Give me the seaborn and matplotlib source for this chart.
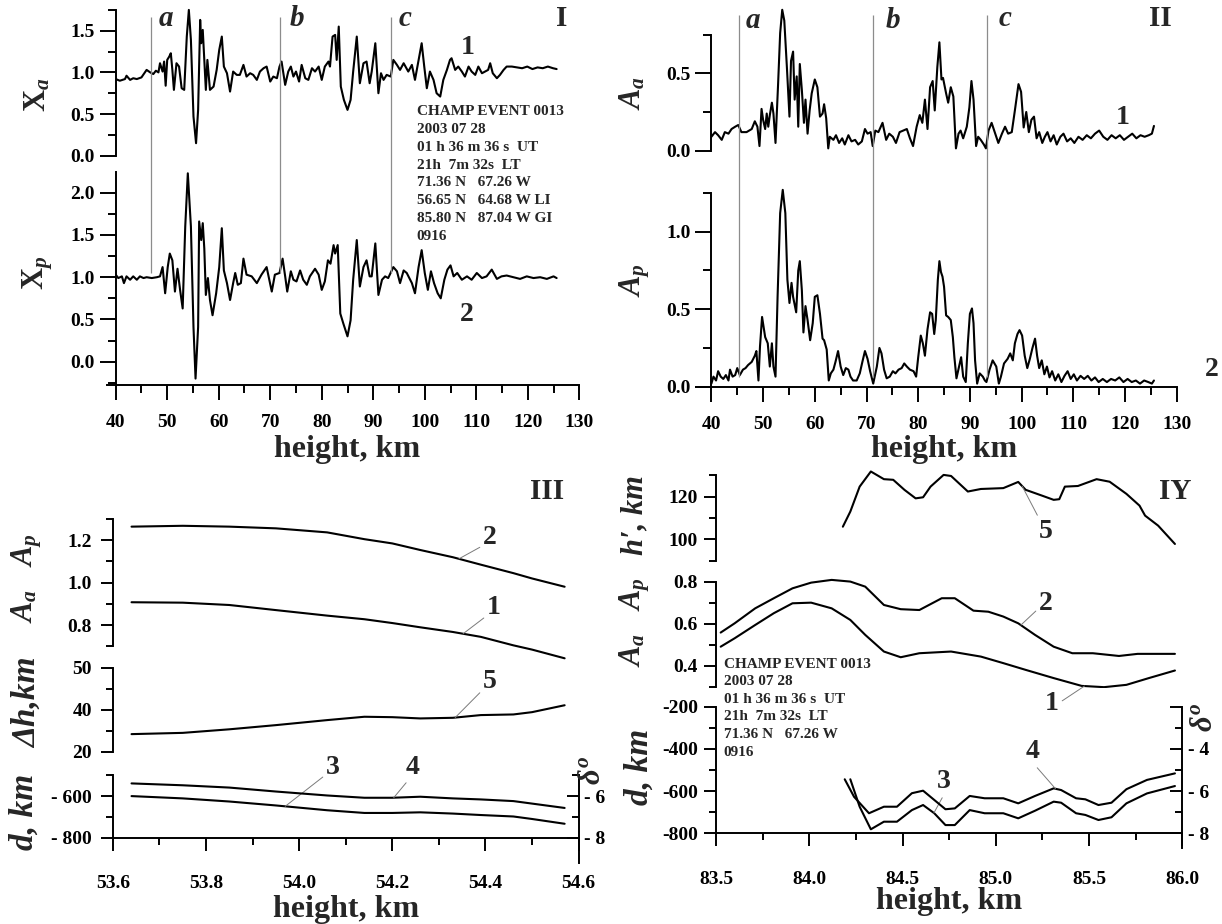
import numpy as np
import matplotlib
matplotlib.use("Agg")
import matplotlib.pyplot as plt
import seaborn as sns
from matplotlib.ticker import FixedLocator, FuncFormatter

# ---------------- data ----------------
# Panel I
XA_H = [40.0, 40.8, 41.8, 42.1, 42.8, 43.4, 44.1, 45.0, 46.0, 46.7, 47.3, 47.8, 48.3, 48.6, 49.1, 49.4, 49.7, 50.0, 50.4, 50.7,
        51.0, 51.3, 51.8, 52.3, 52.8, 53.3, 53.8, 54.2, 54.6, 55.1, 55.6, 56.0, 56.4, 56.6, 56.9, 57.2, 57.5, 57.8, 58.3, 59.0,
        59.6, 60.1, 60.6, 61.0, 61.6, 62.2, 62.8, 63.5, 64.1, 64.8, 65.4, 66.1, 66.7, 67.4, 68.0, 68.7, 69.3, 70.0, 70.6, 71.3,
        71.8, 72.2, 72.9, 73.5, 74.0, 74.5, 75.0, 75.6, 76.1, 76.8, 77.4, 78.1, 78.7, 79.4, 80.0, 80.6, 81.3, 81.6, 82.1, 82.6,
        82.9, 83.3, 83.7, 84.3, 85.0, 85.6, 86.1, 86.8, 87.4, 88.1, 88.7, 89.3, 89.7, 90.4, 91.0, 91.5, 92.0, 92.6, 93.4, 93.9,
        94.6, 95.2, 95.9, 96.8, 97.5, 98.1, 98.8, 99.4, 99.9, 100.4, 101.0, 101.7, 102.3, 103.0, 103.6, 104.3, 104.9, 105.2, 105.9, 106.5,
        107.2, 107.8, 108.5, 109.1, 109.8, 110.4, 111.1, 111.7, 112.3, 112.7, 113.2, 114.0, 114.6, 115.3, 115.9, 116.9, 117.9, 118.9, 119.9, 120.9,
        121.9, 122.9, 123.9, 124.9, 125.6]
XA_V = [0.92, 0.90, 0.92, 0.96, 0.91, 0.93, 0.92, 0.94, 1.03, 1.00, 0.98, 1.02, 1.00, 1.11, 1.01, 1.13, 0.84, 1.15, 1.19, 1.23,
        1.03, 0.79, 1.11, 1.07, 0.81, 0.79, 1.43, 1.75, 1.39, 0.47, 0.15, 0.55, 1.63, 1.35, 1.51, 1.15, 0.79, 1.15, 0.79, 0.83,
        1.03, 1.27, 1.43, 1.07, 0.99, 0.77, 1.01, 0.97, 0.97, 1.09, 0.95, 0.99, 0.97, 0.91, 1.01, 1.05, 1.07, 0.89, 0.95, 0.93,
        1.07, 1.13, 0.85, 1.01, 1.07, 0.95, 1.01, 0.89, 1.09, 0.93, 0.91, 1.05, 1.01, 1.07, 0.91, 1.07, 1.13, 1.07, 1.43, 1.45,
        1.15, 1.55, 0.83, 0.67, 0.55, 0.67, 1.01, 1.43, 0.87, 1.11, 1.13, 0.87, 1.01, 1.35, 0.75, 0.99, 0.91, 0.97, 0.95, 1.15,
        1.09, 1.03, 1.11, 1.01, 1.09, 0.91, 1.15, 1.35, 1.07, 0.81, 1.01, 0.91, 0.75, 0.71, 0.91, 1.03, 1.15, 1.17, 1.03, 1.07,
        1.01, 0.95, 1.07, 1.01, 0.97, 1.07, 0.99, 1.01, 1.03, 1.11, 0.99, 0.93, 0.97, 1.03, 1.07, 1.07, 1.06, 1.05, 1.07, 1.04,
        1.06, 1.05, 1.07, 1.05, 1.04]
XP_H = [40.0, 40.5, 41.2, 41.6, 42.1, 42.8, 43.4, 44.1, 44.7, 45.4, 46.0, 47.0, 48.0, 48.6, 49.1, 49.6, 50.1, 50.5, 51.0, 51.5,
        52.0, 52.5, 53.0, 53.5, 54.0, 54.6, 55.1, 55.5, 56.0, 56.2, 56.6, 56.9, 57.2, 57.5, 57.9, 58.3, 58.8, 59.5, 60.1, 60.6,
        61.0, 61.6, 62.2, 62.8, 63.2, 63.7, 64.3, 64.8, 65.4, 66.4, 67.4, 68.3, 69.3, 70.3, 70.9, 71.8, 72.4, 72.9, 73.3, 74.0,
        74.5, 75.1, 75.8, 76.4, 77.1, 77.7, 78.7, 79.4, 80.0, 80.6, 81.2, 81.7, 82.3, 82.6, 83.1, 83.6, 84.2, 85.0, 85.6, 86.1,
        86.8, 87.4, 88.1, 88.7, 89.3, 89.7, 90.4, 91.0, 91.7, 92.3, 92.9, 93.9, 94.6, 95.2, 95.9, 96.5, 97.5, 98.1, 98.8, 99.4,
        100.0, 100.6, 101.2, 101.8, 102.5, 103.1, 103.8, 104.4, 105.0, 105.6, 106.3, 107.2, 108.2, 109.1, 110.1, 111.1, 112.0, 113.0, 114.0, 114.9,
        115.9, 117.2, 118.5, 119.8, 121.1, 122.4, 123.7, 125.0, 125.6]
XP_V = [1.03, 0.99, 1.01, 0.93, 1.01, 0.97, 1.01, 0.97, 1.01, 0.99, 1.00, 0.99, 1.00, 1.01, 1.12, 0.81, 1.12, 1.28, 1.20, 0.83,
        1.10, 0.85, 0.63, 1.60, 2.23, 1.60, 0.41, -0.20, 0.41, 1.66, 1.44, 1.64, 1.34, 0.79, 0.99, 0.73, 0.55, 0.81, 1.12, 1.58,
        1.08, 0.93, 0.73, 0.93, 1.05, 0.91, 0.93, 1.22, 1.03, 1.01, 0.93, 1.03, 1.12, 0.83, 1.03, 1.05, 1.22, 1.01, 0.83, 1.07,
        0.97, 0.95, 1.08, 0.97, 0.91, 1.01, 1.10, 1.03, 0.85, 0.95, 1.20, 1.16, 1.38, 1.28, 1.38, 0.57, 0.45, 0.30, 0.49, 0.97,
        1.44, 0.89, 1.12, 1.20, 1.01, 1.01, 1.40, 0.79, 0.97, 1.01, 0.99, 1.12, 1.07, 0.93, 1.08, 1.05, 0.93, 0.81, 1.12, 1.32,
        1.05, 0.85, 1.07, 0.93, 0.81, 0.75, 0.97, 1.09, 1.14, 1.01, 1.05, 0.97, 1.01, 0.97, 1.05, 0.99, 1.01, 1.09, 0.98, 1.01,
        1.02, 1.00, 0.98, 1.01, 0.99, 1.00, 0.98, 1.01, 0.99]
MARKS_I = [46.9, 71.8, 93.4]

# Panel II
AA_H = [40.0, 40.7, 41.3, 42.0, 42.6, 43.3, 43.9, 44.6, 45.2, 45.8, 46.8, 47.8, 48.4, 48.9, 49.3, 49.7, 50.0, 50.4, 50.7, 51.0,
        51.3, 51.7, 52.0, 52.4, 52.9, 53.3, 53.7, 54.1, 54.6, 55.1, 55.4, 55.8, 56.1, 56.5, 56.8, 57.1, 57.5, 57.9, 58.2, 58.6,
        59.0, 59.4, 60.0, 60.5, 61.0, 61.5, 61.8, 62.2, 62.6, 62.9, 63.6, 64.1, 64.7, 65.3, 65.8, 66.5, 67.1, 67.8, 68.4, 69.1,
        69.7, 70.2, 70.8, 71.2, 71.7, 72.3, 73.1, 73.8, 74.4, 75.1, 75.7, 76.4, 77.1, 77.8, 78.4, 79.0, 79.7, 80.3, 80.8, 81.3,
        81.8, 82.3, 82.8, 83.2, 83.7, 84.1, 84.5, 84.8, 85.4, 85.8, 86.3, 86.8, 87.3, 87.8, 88.2, 88.7, 89.4, 89.9, 90.3, 90.7,
        91.2, 91.6, 92.1, 92.7, 93.1, 93.6, 94.2, 94.9, 95.5, 96.2, 96.8, 97.4, 98.1, 98.7, 99.4, 99.9, 100.4, 100.9, 101.4, 101.9,
        102.4, 102.9, 103.4, 104.0, 104.5, 105.0, 105.6, 106.2, 106.8, 107.5, 108.1, 108.8, 109.5, 110.2, 111.0, 111.8, 112.6, 113.4, 114.2, 115.0,
        115.8, 116.6, 117.4, 118.2, 119.0, 119.8, 120.6, 121.4, 122.2, 123.0, 123.8, 124.6, 125.2, 125.6]
AA_V = [0.09, 0.12, 0.10, 0.07, 0.12, 0.11, 0.14, 0.155, 0.166, 0.12, 0.12, 0.14, 0.19, 0.155, 0.03, 0.27, 0.20, 0.14, 0.24, 0.155,
        0.23, 0.31, 0.24, 0.05, 0.43, 0.76, 0.91, 0.84, 0.54, 0.22, 0.58, 0.64, 0.33, 0.48, 0.155, 0.56, 0.39, 0.18, 0.33, 0.11,
        0.26, 0.37, 0.46, 0.41, 0.22, 0.24, 0.30, 0.21, 0.015, 0.09, 0.07, 0.10, 0.05, 0.08, 0.04, 0.10, 0.06, 0.07, 0.04, 0.06,
        0.14, 0.11, 0.12, 0.03, 0.13, 0.12, 0.18, 0.07, 0.11, 0.09, 0.05, 0.12, 0.13, 0.14, 0.08, 0.03, 0.155, 0.23, 0.18, 0.33,
        0.14, 0.41, 0.45, 0.26, 0.54, 0.70, 0.46, 0.47, 0.37, 0.31, 0.41, 0.35, 0.015, 0.11, 0.13, 0.08, 0.155, 0.28, 0.45, 0.33,
        0.03, 0.09, 0.07, 0.04, 0.015, 0.13, 0.18, 0.11, 0.05, 0.11, 0.155, 0.11, 0.12, 0.26, 0.43, 0.38, 0.15, 0.25, 0.12, 0.20,
        0.22, 0.08, 0.12, 0.05, 0.09, 0.12, 0.06, 0.10, 0.04, 0.09, 0.11, 0.06, 0.08, 0.05, 0.09, 0.07, 0.10, 0.08, 0.11, 0.13,
        0.09, 0.07, 0.10, 0.08, 0.10, 0.07, 0.09, 0.11, 0.08, 0.10, 0.09, 0.10, 0.11, 0.16]
AP_H = [40.0, 40.4, 40.9, 41.3, 41.8, 42.3, 42.8, 43.3, 43.6, 44.1, 44.6, 45.0, 45.5, 46.1, 46.6, 47.1, 47.8, 48.4, 48.7, 49.1,
        49.4, 49.8, 50.4, 50.9, 51.3, 51.7, 52.0, 52.4, 52.8, 53.3, 53.8, 54.3, 54.7, 55.1, 55.5, 55.8, 56.4, 56.8, 57.1, 57.5,
        57.8, 58.2, 58.6, 59.1, 59.6, 60.0, 60.5, 61.0, 61.5, 61.8, 62.3, 62.7, 63.1, 63.6, 64.0, 64.5, 65.0, 65.5, 66.0, 66.5,
        66.9, 67.4, 68.1, 68.7, 69.2, 69.7, 70.2, 70.7, 71.3, 72.0, 72.5, 72.9, 73.4, 73.9, 74.5, 75.1, 75.6, 76.2, 76.8, 77.3,
        77.8, 78.4, 79.1, 79.6, 80.0, 80.5, 80.9, 81.3, 81.8, 82.3, 82.7, 83.1, 83.4, 83.8, 84.1, 84.4, 84.7, 85.0, 85.4, 85.8,
        86.3, 86.7, 87.0, 87.4, 87.9, 88.3, 88.7, 89.2, 89.6, 90.0, 90.4, 90.7, 91.0, 91.4, 91.9, 92.5, 92.9, 93.2, 93.8, 94.4,
        95.1, 95.6, 96.0, 96.6, 97.3, 97.8, 98.3, 98.7, 99.2, 99.6, 100.1, 100.6, 101.1, 101.6, 102.1, 102.6, 103.0, 103.4, 103.9, 104.4,
        104.9, 105.4, 105.9, 106.5, 107.1, 107.7, 108.3, 108.9, 109.5, 110.1, 110.7, 111.4, 112.1, 112.8, 113.5, 114.2, 114.9, 115.7, 116.5, 117.3,
        118.1, 118.9, 119.7, 120.5, 121.3, 122.1, 122.9, 123.7, 124.5, 125.2, 125.6]
AP_V = [0.02, 0.065, 0.04, 0.10, 0.065, 0.05, 0.075, 0.04, 0.11, 0.065, 0.075, 0.12, 0.075, 0.11, 0.12, 0.14, 0.16, 0.20, 0.23, 0.04,
        0.26, 0.45, 0.32, 0.28, 0.13, 0.28, 0.13, 0.065, 0.58, 1.12, 1.27, 1.12, 0.69, 0.54, 0.67, 0.58, 0.48, 0.75, 0.81, 0.62,
        0.35, 0.52, 0.43, 0.30, 0.41, 0.58, 0.59, 0.47, 0.31, 0.30, 0.24, 0.04, 0.086, 0.11, 0.16, 0.23, 0.13, 0.075, 0.12, 0.11,
        0.065, 0.04, 0.04, 0.086, 0.16, 0.23, 0.18, 0.10, 0.02, 0.13, 0.25, 0.215, 0.11, 0.054, 0.065, 0.10, 0.086, 0.11, 0.12, 0.15,
        0.13, 0.11, 0.10, 0.065, 0.19, 0.33, 0.28, 0.20, 0.37, 0.48, 0.47, 0.34, 0.43, 0.69, 0.81, 0.74, 0.71, 0.645, 0.46, 0.45,
        0.43, 0.32, 0.19, 0.054, 0.13, 0.19, 0.065, 0.03, 0.28, 0.47, 0.505, 0.41, 0.17, 0.02, 0.086, 0.065, 0.04, 0.03, 0.11, 0.17,
        0.13, 0.02, 0.065, 0.15, 0.18, 0.215, 0.17, 0.28, 0.34, 0.365, 0.33, 0.20, 0.12, 0.18, 0.25, 0.31, 0.20, 0.12, 0.17, 0.08,
        0.13, 0.06, 0.10, 0.04, 0.08, 0.03, 0.07, 0.10, 0.05, 0.08, 0.04, 0.07, 0.05, 0.07, 0.04, 0.06, 0.03, 0.05, 0.03, 0.05,
        0.04, 0.06, 0.03, 0.05, 0.03, 0.04, 0.02, 0.04, 0.03, 0.02, 0.04]
MARKS_II = [45.4, 71.3, 93.25]

# Panel III
H3 = [53.64, 53.75, 53.85, 53.95, 54.06, 54.14, 54.20, 54.26, 54.33, 54.39, 54.46, 54.50, 54.57]
P3_AP = [1.264, 1.268, 1.264, 1.256, 1.237, 1.205, 1.185, 1.154, 1.12, 1.085, 1.045, 1.02, 0.981]
P3_AA = [0.908, 0.906, 0.895, 0.871, 0.845, 0.828, 0.81, 0.79, 0.768, 0.745, 0.705, 0.685, 0.644]
P3_DH = [28.4, 29.0, 30.7, 32.7, 35.1, 36.7, 36.5, 35.9, 36.2, 37.5, 37.8, 38.9, 42.2]
P3_D = [-600, -611, -626, -645, -668, -681, -681, -678, -684, -691, -698, -710, -733]
P3_DELTA = [-5.39, -5.48, -5.59, -5.78, -5.97, -6.08, -6.08, -6.03, -6.11, -6.16, -6.24, -6.36, -6.57]

# Panel IV
H4_HP = [84.18, 84.22, 84.27, 84.33, 84.40, 84.45, 84.51, 84.57, 84.61, 84.65, 84.72, 84.76, 84.85, 84.92, 85.04,
         85.12, 85.16, 85.25, 85.31, 85.34, 85.37, 85.44, 85.54, 85.61, 85.70, 85.77, 85.80, 85.87, 85.96]
P4_HP = [105.9, 113.0, 124.7, 131.8, 128.2, 127.9, 123.2, 119.2, 119.7, 124.7, 130.2, 129.7, 122.4, 123.6, 124.0,
         126.9, 123.2, 120.4, 118.5, 118.8, 124.7, 125.0, 128.2, 127.0, 121.3, 115.8, 111.1, 106.4, 97.8]
H4_AP = [83.525, 83.60, 83.71, 83.81, 83.91, 84.01, 84.12, 84.22, 84.30, 84.40, 84.49, 84.59, 84.71, 84.78, 84.88,
         84.96, 85.04, 85.12, 85.21, 85.31, 85.41, 85.52, 85.66, 85.76, 85.96]
P4_AP = [0.558, 0.602, 0.673, 0.721, 0.768, 0.795, 0.808, 0.80, 0.776, 0.689, 0.669, 0.665, 0.721, 0.721, 0.662,
         0.657, 0.634, 0.602, 0.547, 0.491, 0.46, 0.46, 0.447, 0.457, 0.457]
H4_AA = [83.525, 83.60, 83.71, 83.81, 83.91, 84.01, 84.12, 84.22, 84.30, 84.40, 84.49, 84.59, 84.76, 84.92, 85.04,
         85.16, 85.31, 85.46, 85.58, 85.70, 85.82, 85.96]
P4_AA = [0.491, 0.531, 0.594, 0.65, 0.697, 0.70, 0.673, 0.618, 0.547, 0.468, 0.441, 0.46, 0.468, 0.444, 0.413,
         0.381, 0.342, 0.305, 0.299, 0.31, 0.342, 0.378]
H4_DELTA = [84.19, 84.24, 84.32, 84.40, 84.47, 84.55, 84.61, 84.67, 84.73, 84.78, 84.86, 84.94, 85.04, 85.12, 85.21,
            85.31, 85.35, 85.43, 85.48, 85.55, 85.62, 85.70, 85.81, 85.96]
P4_DELTA = [-5.44, -6.27, -7.05, -6.74, -6.74, -6.10, -5.98, -6.42, -6.86, -6.82, -6.23, -6.34, -6.34, -6.58, -6.23,
            -5.87, -5.95, -6.34, -6.39, -6.66, -6.55, -5.91, -5.47, -5.16]
H4_D = [84.22, 84.27, 84.33, 84.40, 84.47, 84.55, 84.61, 84.67, 84.73, 84.78, 84.86, 84.94, 85.04, 85.12, 85.21,
        85.31, 85.35, 85.43, 85.48, 85.55, 85.62, 85.70, 85.81, 85.96]
P4_D = [-544, -674, -781, -745, -745, -690, -666, -705, -761, -761, -690, -705, -705, -729, -693,
        -650, -655, -705, -713, -737, -724, -658, -611, -576]

INFO_LONG = ["CHAMP EVENT 0013", "2003 07 28", "01 h 36 m 36 s  UT", "21h  7m 32s  LT",
             "71.36 N   67.26 W", "56.65 N   64.68 W LI", "85.80 N   87.04 W GI", "0916"]
INFO_SHORT = ["CHAMP EVENT 0013", "2003 07 28", "01 h 36 m 36 s  UT", "21h  7m 32s  LT",
              "71.36 N   67.26 W", "0916"]

# ---------------- style ----------------
sns.set_style("ticks")
plt.rcParams.update({
    'font.family': ['Liberation Serif', 'DejaVu Serif'],
    'font.weight': 'bold',
    'mathtext.fontset': 'custom',
    'mathtext.rm': 'Liberation Serif:bold',
    'mathtext.it': 'Liberation Serif:bold:italic',
    'mathtext.bf': 'Liberation Serif:bold',
    'axes.linewidth': 1.4,
    'axes.edgecolor': 'black',
    'xtick.color': 'black', 'ytick.color': 'black',
})

W, H = 1222, 924
fig = plt.figure(figsize=(W / 100, H / 100), dpi=100)
fig.patch.set_facecolor('white')


def box(x0, x1, ytop, ybot):
    return [x0 / W, 1 - ybot / H, (x1 - x0) / W, (ybot - ytop) / H]


def fp(x, y):
    return (x / W, 1 - y / H)


def new_ax(x0, x1, ytop, ybot, xlim, ylim):
    ax = fig.add_axes(box(x0, x1, ytop, ybot))
    ax.set_xlim(*xlim)
    ax.set_ylim(*ylim)
    ax.patch.set_alpha(0)
    for s in ['top', 'right', 'bottom', 'left']:
        ax.spines[s].set_visible(False)
    ax.tick_params(axis='x', which='both', bottom=False, labelbottom=False)
    ax.tick_params(axis='y', which='both', left=False, labelleft=False)
    return ax


def yaxis(ax, major, minor, fmt, bounds, side='left', direction='out', length=11.5, mlength=5.5, pad=3.5, size=14):
    ax.spines[side].set_visible(True)
    ax.spines[side].set_bounds(*bounds)
    ax.yaxis.set_major_locator(FixedLocator(major))
    ax.yaxis.set_minor_locator(FixedLocator(minor))
    ax.yaxis.set_major_formatter(FuncFormatter(fmt))
    if side == 'right':
        ax.yaxis.set_ticks_position('right')
    ax.tick_params(axis='y', which='both', direction=direction, width=1.4, labelsize=size, pad=pad,
                   left=(side == 'left'), labelleft=(side == 'left'),
                   right=(side == 'right'), labelright=(side == 'right'))
    ax.tick_params(axis='y', which='major', length=length)
    ax.tick_params(axis='y', which='minor', length=mlength)


def xaxis(ax, major, minor, fmt, bounds, length=11, mlength=5.5, pad=10, size=14):
    ax.spines['bottom'].set_visible(True)
    ax.spines['bottom'].set_bounds(*bounds)
    ax.xaxis.set_major_locator(FixedLocator(major))
    ax.xaxis.set_minor_locator(FixedLocator(minor))
    ax.xaxis.set_major_formatter(FuncFormatter(fmt))
    ax.tick_params(axis='x', which='both', direction='out', width=1.4, labelsize=size, pad=pad,
                   bottom=True, labelbottom=True)
    ax.tick_params(axis='x', which='major', length=length)
    ax.tick_params(axis='x', which='minor', length=mlength)


def curve(ax, x, y, lw=1.5):
    sns.lineplot(x=np.asarray(x, float), y=np.asarray(y, float), ax=ax, color='black', lw=lw,
                 estimator=None, sort=False, legend=False)
    ax.set_xlabel('')
    ax.set_ylabel('')


def ftext(x, y, s, size=20, **kw):
    fig.text(*fp(x, y), s, fontsize=size, fontweight='bold', ha=kw.pop('ha', 'center'),
             va=kw.pop('va', 'center'), **kw)


def leader(ax, label, xs, ys, at, tx, ty, relpos, size=20):
    yv = float(np.interp(at, xs, ys))
    ax.annotate(label, xy=(at, yv), xycoords='data', xytext=fp(tx, ty), textcoords='figure fraction',
                fontsize=size, fontweight='bold', ha='center', va='center',
                arrowprops=dict(arrowstyle='-', color='#7a7a7a', lw=0.7, relpos=relpos,
                                shrinkA=0, shrinkB=0), annotation_clip=False)


f1 = lambda v, p: f'{v:.1f}'
fint = lambda v, p: f'{int(round(v))}'
gray = '#8c8c8c'
GR = ['Liberation Serif', 'DejaVu Serif']

# ---------------- Panel I ----------------
xA = new_ax(115.7, 579.3, 8, 155.7, (40, 130), (0, 1.773))
yaxis(xA, [0, 0.5, 1.0, 1.5], [0.25, 0.75, 1.25, 1.75], f1, (0, 1.75))
curve(xA, XA_H, XA_V)

xP = new_ax(115.7, 579.3, 171.7, 385, (40, 130), (-0.276, 2.249))
yaxis(xP, [0, 0.5, 1.0, 1.5, 2.0], [-0.25, 0.25, 0.75, 1.25, 1.75, 2.25], f1, (-0.276, 2.249))
xaxis(xP, list(range(40, 131, 10)), list(range(45, 130, 10)), fint, (38.25, 130))
curve(xP, XP_H, XP_V)
xP.vlines(MARKS_I, 1.05, 4.08, colors=gray, lw=0.9, clip_on=False)

for s, (x, y) in zip('abc', [(165.7, 18), (296.7, 18), (405, 18)]):
    ftext(x, y, s, size=21, style='italic')
ftext(562, 18, 'I', size=21)
ftext(468, 47, '1', size=20)
ftext(467, 315, '2', size=20)
for i, line in enumerate(INFO_LONG):
    ftext(416.7, 111.7 + 17.8 * i, line, size=11, ha='left')
fig.text(*fp(38, 95), r'$\mathrm{X}_{a}$', fontsize=22, rotation=90, ha='center', va='center')
fig.text(*fp(38, 273), r'$\mathrm{X}_{p}$', fontsize=22, rotation=90, ha='center', va='center')
ftext(347.5, 450, 'height, km', size=23)

# ---------------- Panel II ----------------
aA = new_ax(711.4, 1176.7, 5, 150.7, (40, 130), (0, 0.941))
yaxis(aA, [0, 0.5], [0.25, 0.75], f1, (0, 0.75))
curve(aA, AA_H, AA_V)

aP = new_ax(711.4, 1176.7, 188, 386.7, (40, 130), (0, 1.282))
yaxis(aP, [0, 0.5, 1.0], [0.25, 0.75, 1.25], f1, (0, 1.25))
xaxis(aP, list(range(40, 131, 10)), list(range(45, 130, 10)), fint, (37.1, 130))
curve(aP, AP_H, AP_V)
aP.vlines(MARKS_II, 0.06, 2.40, colors=gray, lw=0.9, clip_on=False)

for s, (x, y) in zip('abc', [(752.7, 20), (892.7, 20), (1005, 18)]):
    ftext(x, y, s, size=21, style='italic')
ftext(1160, 18, 'II', size=21)
ftext(1123, 118, '1', size=20)
ftext(1212, 370, '2', size=20)
fig.text(*fp(633, 93), r'$A_{a}$', fontsize=22, rotation=90, ha='center', va='center')
fig.text(*fp(635, 280), r'$A_{p}$', fontsize=22, rotation=90, ha='center', va='center')
ftext(944, 450, 'height, km', size=23)

# ---------------- Panel III ----------------
X3 = (53.6, 54.6)
a3 = new_ax(112.9, 578.6, 519, 660, X3, (0.636, 1.3))
yaxis(a3, [0.8, 1.0, 1.2], [0.7, 0.9, 1.1, 1.3], f1, (0.7, 1.3), length=9, mlength=5, pad=6)
curve(a3, H3, P3_AP)
curve(a3, H3, P3_AA)
leader(a3, '2', H3, P3_AP, 54.343, 490, 538, (0.0, 0.2))
leader(a3, '1', H3, P3_AA, 54.352, 494, 608, (0.0, 0.2))

h3 = new_ax(112.9, 578.6, 668, 751.7, X3, (20, 60))
yaxis(h3, [20, 40, 60], [30, 50], lambda v, p: {20: '20', 40: '40', 60: '50'}[int(round(v))],
      (20, 60), length=9, mlength=5, pad=6)
curve(h3, H3, P3_DH)
leader(h3, '5', H3, P3_DH, 54.335, 490, 682, (0.0, 0.2))

d3 = new_ax(112.9, 578.6, 775.3, 837.7, X3, (-800, -500))
yaxis(d3, [-800, -600], [-700, -500], lambda v, p: f'- {abs(int(round(v)))}', (-800, -500),
      length=9, mlength=5, pad=6)
xaxis(d3, [53.6, 53.8, 54.0, 54.2, 54.4, 54.6], [53.7, 53.9, 54.1, 54.3, 54.5], f1, (53.6, 54.6),
      length=9, mlength=5, pad=18)
curve(d3, H3, P3_D)
r3 = d3.twinx()
r3.set_ylim(-8, -5)
r3.patch.set_alpha(0)
for s in ['top', 'left', 'bottom', 'right']:
    r3.spines[s].set_visible(False)
yaxis(r3, [-8, -6], [-7, -5], lambda v, p: f'- {abs(int(round(v)))}', (-9.2, -5), side='right',
      direction='in', length=9, mlength=5, pad=4)
curve(r3, H3, P3_DELTA)
leader(d3, '3', H3, P3_D, 53.97, 333, 767, (0.0, 0.2))
leader(r3, '4', H3, P3_DELTA, 54.203, 413, 767, (0.2, 0.0))

ftext(547, 492, 'III', size=21)
fig.text(*fp(27, 578), r'$A_{a}\quad A_{p}$', fontsize=22, rotation=90, ha='center', va='center')
fig.text(*fp(27, 703), 'Δh,km', fontsize=24, fontweight='bold', style='italic', rotation=90,
         ha='center', va='center', family=GR)
fig.text(*fp(24, 812), 'd, km', fontsize=24, fontweight='bold', style='italic', rotation=90,
         ha='center', va='center')
fig.text(*fp(593, 770), r'$\delta^{o}$', fontsize=22, rotation=90, ha='center', va='center')
ftext(345.8, 910, 'height, km', size=23)

# ---------------- Panel IV ----------------
X4 = (83.5, 86.0)
h4 = new_ax(716, 1182.4, 470, 560.6, X4, (90, 132.5))
yaxis(h4, [100, 120], [90, 110, 130], fint, (90, 130), length=9, mlength=5, pad=4)
curve(h4, H4_HP, P4_HP)
leader(h4, '5', H4_HP, P4_HP, 85.141, 1046, 531, (0.0, 1.0))

a4 = new_ax(716, 1182.4, 578, 688, X4, (0.295, 0.817))
yaxis(a4, [0.4, 0.6, 0.8], [0.3, 0.5, 0.7], f1, (0.3, 0.8), length=9, mlength=5, pad=4)
curve(a4, H4_AP, P4_AP)
curve(a4, H4_AA, P4_AA)
leader(a4, '2', H4_AP, P4_AP, 85.134, 1046, 603, (0.0, 0.3))
leader(a4, '1', H4_AA, P4_AA, 85.475, 1052, 703, (1.0, 0.5))

d4 = new_ax(716, 1182.4, 706.7, 833.3, X4, (-800, -200))
yaxis(d4, [-800, -600, -400, -200], [-700, -500, -300], lambda v, p: f'-{abs(int(round(v)))}',
      (-800, -200), length=9, mlength=5, pad=4)
xaxis(d4, [83.5, 84.0, 84.5, 85.0, 85.5, 86.0], [83.75, 84.25, 84.75, 85.25, 85.75], f1, (83.5, 86.0),
      length=9, mlength=5, pad=18)
curve(d4, H4_D, P4_D)
r4 = d4.twinx()
r4.set_ylim(-8, -2)
r4.patch.set_alpha(0)
for s in ['top', 'left', 'bottom', 'right']:
    r4.spines[s].set_visible(False)
yaxis(r4, [-8, -6, -4, -2], [-7, -5, -3], lambda v, p: '' if v > -3 else f'- {abs(int(round(v)))}',
      (-8.7, -2), side='right', direction='in', length=9, mlength=5, pad=4)
curve(r4, H4_DELTA, P4_DELTA)
leader(d4, '3', H4_D, P4_D, 84.668, 944, 782, (0.5, 0.0))
leader(r4, '4', H4_DELTA, P4_DELTA, 85.32, 1033, 752, (0.6, 0.0))

ftext(1175, 492, 'IY', size=21)
fig.text(*fp(635, 515), "h′, km", fontsize=22, fontweight='bold', style='italic', rotation=90,
         ha='center', va='center', family=GR)
fig.text(*fp(635, 622), r'$A_{a}\quad A_{p}$', fontsize=22, rotation=90, ha='center', va='center')
fig.text(*fp(639, 767), 'd, km', fontsize=24, fontweight='bold', style='italic', rotation=90,
         ha='center', va='center')
fig.text(*fp(1204, 717), r'$\delta^{o}$', fontsize=22, rotation=90, ha='center', va='center')
for i, line in enumerate(INFO_SHORT):
    ftext(723.6, 664 + 17.6 * i, line, size=11, ha='left')
ftext(949, 902, 'height, km', size=23)

fig.savefig('out.png', dpi=100, facecolor='white')
